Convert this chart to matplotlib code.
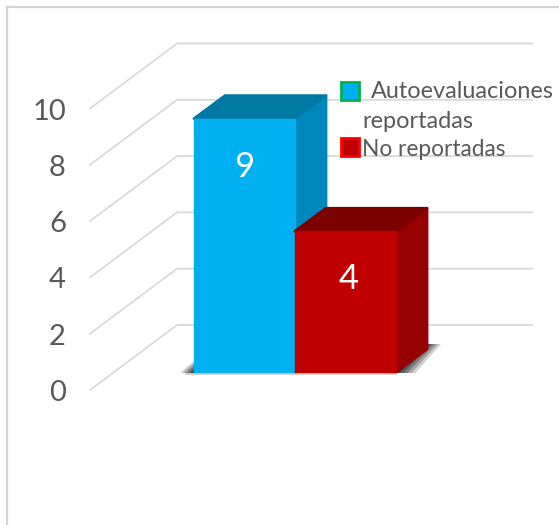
"""3D-look column chart of reported vs unreported self-evaluations."""
import matplotlib
matplotlib.use("Agg")
import matplotlib.pyplot as plt
from matplotlib.patches import Polygon, Rectangle

# Bar heights as drawn on the axis; the printed labels differ for the red bar
categories = ["Autoevaluaciones\nreportadas", "No reportadas"]
bar_heights = [9, 5]
bar_labels = ["9", "4"]
y_ticks = [0, 2, 4, 6, 8, 10]

front_colors = ["#00B0F0", "#C00000"]
side_colors = ["#0088BC", "#960000"]
top_colors = ["#0078A4", "#7C0000"]
legend_edges = ["#00B050", "#FF0000"]
TEXT = "#595959"
GRID = "#D9D9D9"

W, H = 559, 525
PX_X, PX_Y = 101.0, 28.15   # pixels per category / per y unit
X0, Y0 = 244.5, 372.0       # pixel of category 0 at y=0


def dx(px):
    return px / PX_X


def dy(px):
    return px / PX_Y


plt.rcParams["font.family"] = ["Lato", "DejaVu Sans"]
fig = plt.figure(figsize=(W / 100, H / 100), dpi=100)
ax = fig.add_axes([0, 0, 1, 1])
ax.set_xlim(-X0 / PX_X, (W - X0) / PX_X)
ax.set_ylim((Y0 - H) / PX_Y, Y0 / PX_Y)
ax.axis("off")

# outer chart frame
ax.plot([dx(7 - X0)] * 2, [dy(Y0 - H), dy(Y0 - 7)], color="#D4D4D4", lw=1.6, zorder=1)
ax.plot([dx(7 - X0), dx(W - X0)], [dy(Y0 - 7)] * 2, color="#D4D4D4", lw=1.6, zorder=1)

# floor/wall gridlines in oblique projection
wall_x0, wall_x1, wall_x2 = dx(90 - X0), dx(177 - X0), dx(532 - X0)
front_dy, back_dy = dy(-18), dy(47)
for v in y_ticks:
    ax.plot([wall_x0, wall_x1, wall_x2],
            [v + front_dy, v + back_dy, v + back_dy],
            color=GRID, lw=1.3, zorder=2, solid_joinstyle="miter")
    ax.text(dx(66 - X0), v + front_dy - dy(3), str(v), color=TEXT, fontsize=21,
            ha="right", va="center", zorder=6)

# soft shadow under the bars
depth_x, depth_y = dx(31), dy(23)
left, right = -0.5, 1.5
for grow, alpha in [(14, 0.2), (11, 0.25), (8, 0.3), (5, 0.4), (2, 0.5)]:
    ax.add_patch(Polygon(
        [(left - dx(grow), -dy(1)), (right + dx(grow * 1.4), -dy(1)),
         (right + depth_x + dx(grow), depth_y + dy(5)),
         (right + depth_x, depth_y + dy(5)), (left, dy(grow * 0.8))],
        closed=True, facecolor="#202020", edgecolor="none", alpha=alpha, zorder=3))
ax.plot([left - dx(8), right], [-dy(2)] * 2, color="#C8C8C8", lw=1.2, zorder=3)

# extruded columns
for i, h in enumerate(bar_heights):
    l, r = i - 0.5, i + 0.5
    z = 4 + i * 0.1
    ax.add_patch(Polygon([(r, 0), (r + depth_x, depth_y), (r + depth_x, h + depth_y), (r, h)],
                         closed=True, facecolor=side_colors[i], edgecolor=side_colors[i],
                         lw=2.0, joinstyle="round", zorder=z))
    ax.add_patch(Polygon([(l, h), (l + depth_x, h + depth_y), (r + depth_x, h + depth_y), (r, h)],
                         closed=True, facecolor=top_colors[i], edgecolor=top_colors[i],
                         lw=2.0, joinstyle="round", zorder=z))
    ax.bar(i, h, width=1.0, color=front_colors[i], edgecolor=front_colors[i], lw=1.0,
           joinstyle="round", zorder=z + 0.01)
    ax.text(i + dx(0 if i == 0 else 3), h - dy(48), bar_labels[i], color="white", fontsize=25,
            ha="center", va="center", zorder=6)

# legend built by hand to sit over the gridlines
ax.add_patch(Rectangle((dx(341 - X0), dy(Y0 - 100)), dx(18), dy(18), facecolor=front_colors[0],
                       edgecolor=legend_edges[0], lw=2, zorder=6))
ax.add_patch(Rectangle((dx(341 - X0), dy(Y0 - 156)), dx(18), dy(18), facecolor=front_colors[1],
                       edgecolor=legend_edges[1], lw=2, zorder=6))
first, second = categories[0].split("\n")
ax.text(dx(371 - X0), dy(Y0 - 92), first, color=TEXT, fontsize=16.9, ha="left", va="center", zorder=6)
ax.text(dx(362 - X0), dy(Y0 - 121), second, color=TEXT, fontsize=16.9, ha="left", va="center", zorder=6)
ax.text(dx(362 - X0), dy(Y0 - 149), categories[1], color=TEXT, fontsize=16.3, ha="left", va="center", zorder=6)

fig.savefig("out.png", dpi=100)
plt.close(fig)
